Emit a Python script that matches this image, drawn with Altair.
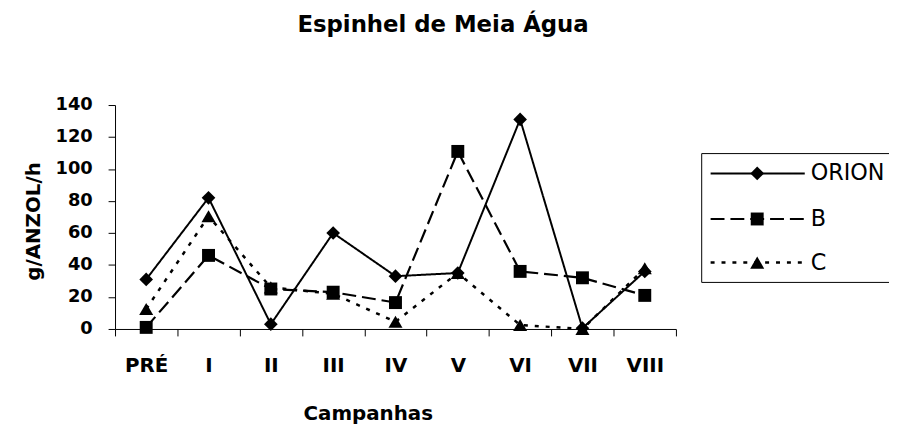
import json
import altair as alt
import pandas as pd

# ---- data ----
campanhas = ['PRÉ', 'I', 'II', 'III', 'IV', 'V', 'VI', 'VII', 'VIII']
series = ['ORION', 'B', 'C']
orion = [31, 82, 3, 60, 33, 35, 131, 0.5, 36]
serie_b = [1, 46, 25, 23, 16.5, 111, 36, 32, 21]
serie_c = [12.5, 70.5, 26, 22, 4.5, 35, 2.5, 0, 38]
y_ticks = [0, 20, 40, 60, 80, 100, 120, 140]

values = {'ORION': orion, 'B': serie_b, 'C': serie_c}

# ---- styles ----
dashes = {'ORION': [1, 0], 'B': [14, 6], 'C': [4, 7]}
shapes = {'ORION': 'diamond', 'B': 'square', 'C': 'triangle-up'}
sizes = {'ORION': 190, 'B': 170, 'C': 200}
widths = {'ORION': 2, 'B': 2.2, 'C': 2.5}

FONT = 'DejaVu Sans'
W, H = 566, 226
N = len(campanhas)

rows = []
for s in series:
    for i, (c, v) in enumerate(zip(campanhas, values[s])):
        rows.append({'campanha': c, 'pos': i + 0.5, 'serie': s, 'valor': v})
df = pd.DataFrame(rows)

label_expr = "datum.value < %d ? %s[datum.value] : ''" % (
    N, json.dumps(campanhas, ensure_ascii=False))

x_scale = alt.Scale(domain=[0, N], nice=False, zero=False)
y_scale = alt.Scale(domain=[0, 140], nice=False)

x_axis = alt.Axis(
    values=list(range(N + 1)), tickSize=7, tickColor='black', domainColor='black',
    grid=False, labelExpr=label_expr, labelOffset=W / N / 2, labelPadding=20,
    labelFont=FONT, labelFontSize=20, labelFontWeight='bold', labelColor='black',
    labelBaseline='top', labelAlign='center', labelOverlap=False, labelFlush=False,
    title='Campanhas', titleFont=FONT, titleFontSize=20, titleFontWeight='bold',
    titleColor='black', titleX=255, titleY=91, titleAlign='center',
    titleBaseline='alphabetic')

y_axis = alt.Axis(
    values=y_ticks, tickSize=7, tickColor='black', domainColor='black', grid=False,
    labelPadding=16, labelFont=FONT, labelFontSize=18, labelFontWeight='bold',
    labelColor='black', title='g/ANZOL/h', titleFont=FONT, titleFontSize=20,
    titleFontWeight='bold', titleColor='black', titleAngle=270, titleX=-76,
    titleY=117, titleAlign='center', titleBaseline='alphabetic')

X = alt.X('pos:Q', scale=x_scale, axis=x_axis)
Y = alt.Y('valor:Q', scale=y_scale, axis=y_axis)

layers = []
# legend frame first (below everything)
layers.append(alt.Chart(pd.DataFrame({'k': [0]})).mark_rect(
    fill='white', stroke='black', strokeWidth=1).encode(
    x=alt.value(592), x2=alt.value(820), y=alt.value(49), y2=alt.value(179)))

for s in series:
    base = alt.Chart(df[df.serie == s])
    layers.append(base.mark_line(color='black', strokeWidth=widths[s],
                                 strokeDash=dashes[s]).encode(x=X, y=Y))
    layers.append(base.mark_point(shape=shapes[s], size=sizes[s], filled=True,
                                  color='black', opacity=1).encode(x=X, y=Y))

# ---- legend entries (line + marker samples) ----
leg_y = {'ORION': 69, 'B': 115, 'C': 159}
for s in series:
    lb = alt.Chart(pd.DataFrame({'serie': [s]}))
    layers.append(lb.mark_rule(color='black', strokeWidth=widths[s],
                               strokeDash=dashes[s]).encode(
        x=alt.value(601), x2=alt.value(696), y=alt.value(leg_y[s])))
    layers.append(lb.mark_point(shape=shapes[s], size=sizes[s], filled=True,
                                color='black', opacity=1).encode(
        x=alt.value(648), y=alt.value(leg_y[s])))
    layers.append(lb.mark_text(align='left', baseline='middle', font=FONT,
                               fontSize=22.5, color='black').encode(
        x=alt.value(702), y=alt.value(leg_y[s]), text='serie:N'))

chart = alt.layer(*layers).properties(
    width=W, height=H, background='white',
    autosize=alt.AutoSizeParams(type='none'),
    padding={'left': 108, 'top': 96, 'right': 215, 'bottom': 97},
    title=alt.TitleParams('Espinhel de Meia Água', font=FONT, fontSize=23,
                          fontWeight='bold', color='black', anchor='middle',
                          frame='group', dx=48, offset=42,
                          baseline='alphabetic'),
).configure_view(stroke=None)

chart.save('out.html', embed_options={'renderer': 'svg', 'actions': False})
